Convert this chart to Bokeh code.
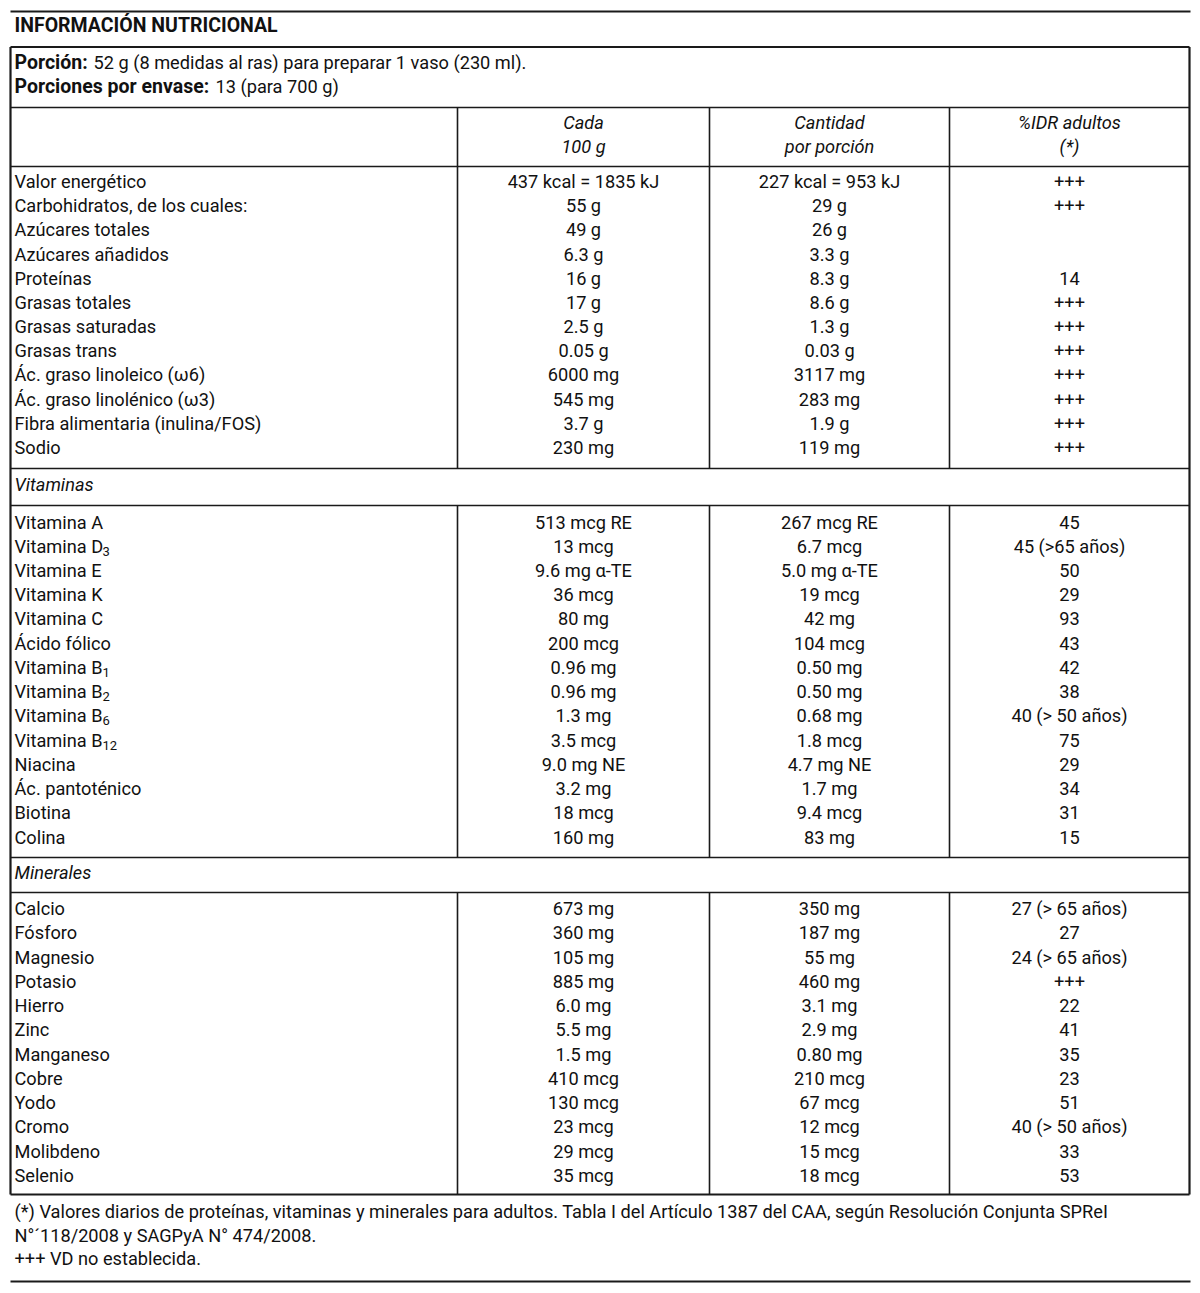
from bokeh.plotting import figure
from bokeh.models import ColumnDataSource, Range1d
from bokeh.core.properties import value
from bokeh.embed import file_html
from bokeh.resources import INLINE

FONT = "Roboto"

# ---------------- data ----------------
title = "INFORMACIÓN NUTRICIONAL"
portion_labels = ["Porción:", "Porciones por envase:"]
portion_values = ["52 g (8 medidas al ras) para preparar 1 vaso (230 ml).", "13 (para 700 g)"]

header_line1 = ["Cada", "Cantidad", "%IDR adultos"]
header_line2 = ["100 g", "por porción", "(*)"]

nutr_names = ["Valor energético", "Carbohidratos, de los cuales:", "Azúcares totales",
              "Azúcares añadidos", "Proteínas", "Grasas totales", "Grasas saturadas",
              "Grasas trans", "Ác. graso linoleico (ω6)", "Ác. graso linolénico (ω3)",
              "Fibra alimentaria (inulina/FOS)", "Sodio"]
nutr_100 = ["437 kcal = 1835 kJ", "55 g", "49 g", "6.3 g", "16 g", "17 g", "2.5 g",
            "0.05 g", "6000 mg", "545 mg", "3.7 g", "230 mg"]
nutr_por = ["227 kcal = 953 kJ", "29 g", "26 g", "3.3 g", "8.3 g", "8.6 g", "1.3 g",
            "0.03 g", "3117 mg", "283 mg", "1.9 g", "119 mg"]
nutr_idr = ["+++", "+++", "", "", "14", "+++", "+++", "+++", "+++", "+++", "+++", "+++"]

vit_title = "Vitaminas"
vit_names = ["Vitamina A", "Vitamina D", "Vitamina E", "Vitamina K", "Vitamina C",
             "Ácido fólico", "Vitamina B", "Vitamina B", "Vitamina B", "Vitamina B",
             "Niacina", "Ác. pantoténico", "Biotina", "Colina"]
vit_subs = ["", "3", "", "", "", "", "1", "2", "6", "12", "", "", "", ""]
vit_100 = ["513 mcg RE", "13 mcg", "9.6 mg α-TE", "36 mcg", "80 mg", "200 mcg", "0.96 mg",
           "0.96 mg", "1.3 mg", "3.5 mcg", "9.0 mg NE", "3.2 mg", "18 mcg", "160 mg"]
vit_por = ["267 mcg RE", "6.7 mcg", "5.0 mg α-TE", "19 mcg", "42 mg", "104 mcg", "0.50 mg",
           "0.50 mg", "0.68 mg", "1.8 mcg", "4.7 mg NE", "1.7 mg", "9.4 mcg", "83 mg"]
vit_idr = ["45", "45 (>65 años)", "50", "29", "93", "43", "42", "38", "40 (> 50 años)",
           "75", "29", "34", "31", "15"]

min_title = "Minerales"
min_names = ["Calcio", "Fósforo", "Magnesio", "Potasio", "Hierro", "Zinc", "Manganeso",
             "Cobre", "Yodo", "Cromo", "Molibdeno", "Selenio"]
min_100 = ["673 mg", "360 mg", "105 mg", "885 mg", "6.0 mg", "5.5 mg", "1.5 mg",
           "410 mcg", "130 mcg", "23 mcg", "29 mcg", "35 mcg"]
min_por = ["350 mg", "187 mg", "55 mg", "460 mg", "3.1 mg", "2.9 mg", "0.80 mg",
           "210 mcg", "67 mcg", "12 mcg", "15 mcg", "18 mcg"]
min_idr = ["27 (> 65 años)", "27", "24 (> 65 años)", "+++", "22", "41", "35", "23",
           "51", "40 (> 50 años)", "33", "53"]

footnotes = ["(*) Valores diarios de proteínas, vitaminas y minerales para adultos. Tabla I del Artículo 1387 del CAA, según Resolución Conjunta SPReI",
             "N°´118/2008 y SAGPyA N° 474/2008.",
             "+++ VD no establecida."]

# ---------------- layout ----------------
L, R = 10, 1189
C1, C2, C3 = 457, 709, 949
COLX = [(C1 + C2) / 2, (C2 + C3) / 2, (C3 + R) / 2]
NAME_X = 14

p = figure(width=1200, height=1293, output_backend="svg", toolbar_location=None,
           x_range=Range1d(0, 1200), y_range=Range1d(1293, 0), min_border=0)
p.axis.visible = False
p.grid.visible = False
p.outline_line_color = None
p.background_fill_color = "white"
p.border_fill_color = "white"

LC = "#1a1a1a"
BOX_TOP, BOX_BOT = 46.5, 1194
# outer rules and box
p.segment(x0=[L, L], y0=[11, 1281], x1=[1190, 1190], y1=[11, 1281], line_color=LC, line_width=2.2)
p.segment(x0=[L, L, L, R], y0=[BOX_TOP, BOX_BOT, BOX_TOP, BOX_TOP], x1=[R, R, L, R],
          y1=[BOX_TOP, BOX_BOT, BOX_BOT, BOX_BOT], line_color=LC, line_width=2.2)
hy = [107, 166, 468, 505, 857, 892]
p.segment(x0=[L] * len(hy), y0=hy, x1=[R] * len(hy), y1=hy, line_color=LC, line_width=1.6)
vx, vy0, vy1 = [], [], []
for (a, b) in [(107, 468), (505, 857), (892, BOX_BOT)]:
    for c in (C1, C2, C3):
        vx.append(c); vy0.append(a); vy1.append(b)
p.segment(x0=vx, y0=vy0, x1=vx, y1=vy1, line_color=LC, line_width=1.6)

TC = "#111111"
FS = "18.2px"

def txt(xs, ys, texts, align="left", style="normal", size=FS):
    src = ColumnDataSource(dict(x=xs, y=ys, t=texts))
    p.text(x="x", y="y", text="t", source=src, text_font=value(FONT), text_font_size=size,
           text_align=align, text_baseline="alphabetic", text_color=TC, text_font_style=style)

# title
txt([14], [25], [title], style="bold", size="19.5px")
# portions
txt([14, 14], [62, 85.5], portion_labels, style="bold", size="19.5px")
txt([93, 215], [62, 85.5], portion_values)
# header
txt(COLX, [122] * 3, header_line1, align="center", style="italic")
txt(COLX, [145.5] * 3, header_line2, align="center", style="italic")

def section(names, c100, cpor, cidr, first, last):
    n = len(names)
    step = (last - first) / (n - 1)
    ys = [first + i * step for i in range(n)]
    txt([NAME_X] * n, ys, names)
    txt([COLX[0]] * n, ys, c100, align="center")
    txt([COLX[1]] * n, ys, cpor, align="center")
    txt([COLX[2]] * n, ys, cidr, align="center")
    return ys

section(nutr_names, nutr_100, nutr_por, nutr_idr, 181, 447)
txt([NAME_X], [484], [vit_title], style="italic")
vys = section(vit_names, vit_100, vit_por, vit_idr, 521.5, 836.5)
sub_y = [y + 5 for y, s in zip(vys, vit_subs) if s]
sub_t = [s for s in vit_subs if s]
txt([102] * len(sub_t), sub_y, sub_t, size="13px")
txt([NAME_X], [872], [min_title], style="italic")
section(min_names, min_100, min_por, min_idr, 908, 1175)

txt([14, 14, 14], [1211, 1234.5, 1258], footnotes)

open("out.html", "w").write(file_html(p, INLINE))
